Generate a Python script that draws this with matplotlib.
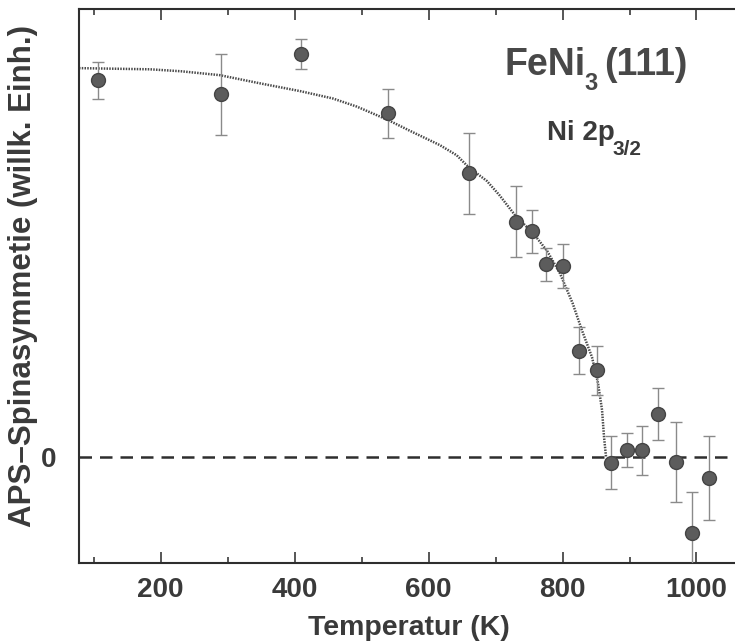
import numpy as np
import matplotlib
matplotlib.use("Agg")
import matplotlib.pyplot as plt
from matplotlib.ticker import MultipleLocator

plt.rcParams['font.family'] = ['Liberation Sans', 'DejaVu Sans']
plt.rcParams['font.weight'] = 'bold'
plt.rcParams['axes.labelweight'] = 'bold'

# measured Ni 2p3/2 spin asymmetry vs temperature
temp = [106, 290, 410, 540, 660, 730, 755, 776, 800, 825, 851, 872, 897, 918, 942, 969, 994, 1018]
asym = [0.969, 0.933, 1.037, 0.884, 0.730, 0.605, 0.581, 0.496, 0.492, 0.274, 0.224,
        -0.014, 0.018, 0.018, 0.111, -0.013, -0.195, -0.054]
err = [0.048, 0.104, 0.039, 0.063, 0.104, 0.091, 0.055, 0.042, 0.057, 0.060, 0.063,
       0.068, 0.044, 0.063, 0.067, 0.103, 0.105, 0.108]

# fitted magnetisation curve
fit_t = [78, 184, 230, 288, 348, 408, 457, 493, 539, 572, 617, 642, 660, 687, 706,
         730, 756, 777, 796, 815, 829, 844, 853, 859, 862, 865]
fit_a = [1.000, 0.997, 0.992, 0.982, 0.961, 0.941, 0.922, 0.901, 0.867, 0.839, 0.802,
         0.776, 0.745, 0.710, 0.673, 0.620, 0.576, 0.530, 0.473, 0.396, 0.326, 0.257,
         0.190, 0.121, 0.051, 0.000]

ink = '#3a3a3a'

fig = plt.figure(figsize=(7.35, 6.44), dpi=100)
ax = fig.add_axes([79 / 735, 81 / 644, 659 / 735, 554 / 644])

ax.axhline(0, color='#2e2e2e', lw=1.8, dashes=(5, 3.2), zorder=1)
ax.plot(fit_t, fit_a, color='#4a4a4a', lw=1.8, ls=(0, (0.6, 0.5)), zorder=2)
ax.errorbar(temp, asym, yerr=err, fmt='o', ms=10, mfc='#5c5c5c', mec='#444444',
            mew=1, ecolor='#8a8a8a', elinewidth=1, capsize=4.5, capthick=1, zorder=3)

ax.set_xlim(78, 1062)
ax.set_ylim(-0.272, 1.152)
ax.xaxis.set_major_locator(MultipleLocator(200))
ax.xaxis.set_minor_locator(MultipleLocator(100))
ax.set_yticks([0])
ax.tick_params(axis='x', which='both', direction='in', top=True, colors=ink,
               labelsize=20, pad=10, width=1.2)
ax.tick_params(axis='x', which='major', length=8)
ax.tick_params(axis='x', which='minor', length=4)
ax.tick_params(axis='y', length=0, labelsize=20, pad=16, colors=ink)
for s in ax.spines.values():
    s.set_color('#2e2e2e')
    s.set_linewidth(1.5)

ax.set_xlabel('Temperatur (K)', fontsize=20.5, color=ink)
ax.set_ylabel('APS–Spinasymmetie (willk. Einh.)', fontsize=22.5, color=ink)
ax.xaxis.set_label_coords(0.5, -0.093)
ax.yaxis.set_label_coords(-0.062, 0.518)

# sample / core level annotation, subscripts set by hand
title_kw = dict(color='#484848', ha='left', va='baseline')
ax.text(714, 0.982, 'FeNi', fontsize=27, **title_kw)
ax.text(833, 0.943, '3', fontsize=17, **title_kw)
ax.text(862, 0.982, '(111)', fontsize=27, **title_kw)
ax.text(777, 0.815, 'Ni 2p', fontsize=20, color=ink, ha='left', va='baseline')
ax.text(875, 0.776, '3/2', fontsize=15, color=ink, ha='left', va='baseline')

fig.savefig('out.png', dpi=100)
